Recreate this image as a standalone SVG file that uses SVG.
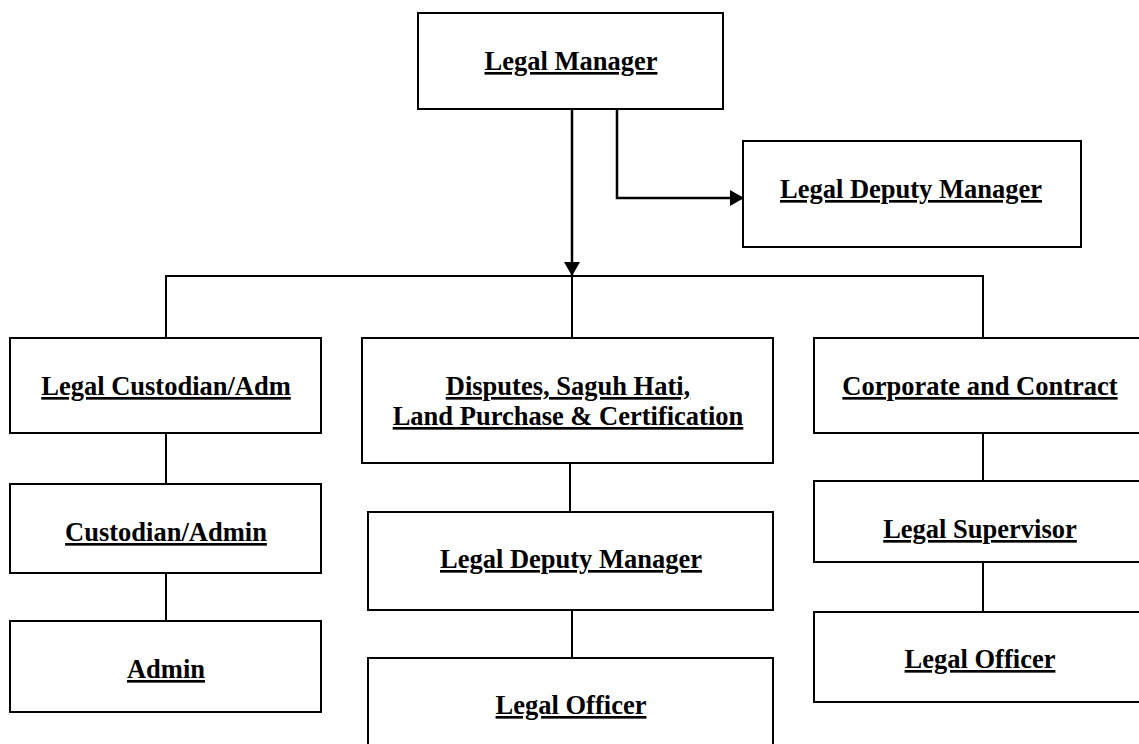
<svg xmlns="http://www.w3.org/2000/svg" width="1139" height="744" viewBox="0 0 1139 744">
<style>
.box{fill:#fff;stroke:#000;stroke-width:2}
.t{font-family:"Liberation Serif","Times New Roman",serif;font-weight:bold;font-size:26.5px;text-anchor:middle;text-decoration:underline;fill:#000}
.c{fill:none;stroke:#000;stroke-width:2}
.ca{fill:none;stroke:#000;stroke-width:2.5}
</style>
<defs>
<marker id="ah" markerWidth="14" markerHeight="16" refX="13" refY="8" orient="auto" markerUnits="userSpaceOnUse">
<path d="M0,0 L14,8 L0,16 Z" fill="#000"/>
</marker>
</defs>
<g id="connectors">
<line class="ca" x1="572" y1="109" x2="572" y2="275" marker-end="url(#ah)"/>
<polyline class="ca" points="617,109 617,198 743,198" marker-end="url(#ah)"/>
<polyline class="c" points="166,338 166,276 983,276 983,338"/>
<line class="c" x1="572" y1="276" x2="572" y2="338"/>
<line class="c" x1="166" y1="433" x2="166" y2="484"/>
<line class="c" x1="166" y1="573" x2="166" y2="621"/>
<line class="c" x1="570" y1="463" x2="570" y2="512"/>
<line class="c" x1="572" y1="610" x2="572" y2="658"/>
<line class="c" x1="983" y1="433" x2="983" y2="481"/>
<line class="c" x1="983" y1="562" x2="983" y2="612"/>
</g>
<g id="legal-manager">
<rect class="box" x="418" y="13" width="305" height="96"/>
<text class="t" x="571" y="70">Legal Manager</text>
</g>
<g id="legal-deputy-manager-top">
<rect class="box" x="743" y="141" width="338" height="106"/>
<text class="t" x="911" y="198">Legal Deputy Manager</text>
</g>
<g id="legal-custodian-adm">
<rect class="box" x="10" y="338" width="311" height="95"/>
<text class="t" x="166" y="395">Legal Custodian/Adm</text>
</g>
<g id="custodian-admin">
<rect class="box" x="10" y="484" width="311" height="89"/>
<text class="t" x="166" y="541">Custodian/Admin</text>
</g>
<g id="admin">
<rect class="box" x="10" y="621" width="311" height="91"/>
<text class="t" x="166" y="678">Admin</text>
</g>
<g id="disputes">
<rect class="box" x="362" y="338" width="411" height="125"/>
<text class="t" x="568" y="395">Disputes, Saguh Hati,</text>
<text class="t" x="568" y="425">Land Purchase &amp; Certification</text>
</g>
<g id="legal-deputy-manager-mid">
<rect class="box" x="368" y="512" width="405" height="98"/>
<text class="t" x="571" y="568">Legal Deputy Manager</text>
</g>
<g id="legal-officer-mid">
<rect class="box" x="368" y="658" width="405" height="100"/>
<text class="t" x="571" y="714">Legal Officer</text>
</g>
<g id="corporate-contract">
<rect class="box" x="814" y="338" width="340" height="95"/>
<text class="t" x="980" y="395">Corporate and Contract</text>
</g>
<g id="legal-supervisor">
<rect class="box" x="814" y="481" width="340" height="81"/>
<text class="t" x="980" y="538">Legal Supervisor</text>
</g>
<g id="legal-officer-right">
<rect class="box" x="814" y="612" width="340" height="90"/>
<text class="t" x="980" y="668">Legal Officer</text>
</g>
</svg>
